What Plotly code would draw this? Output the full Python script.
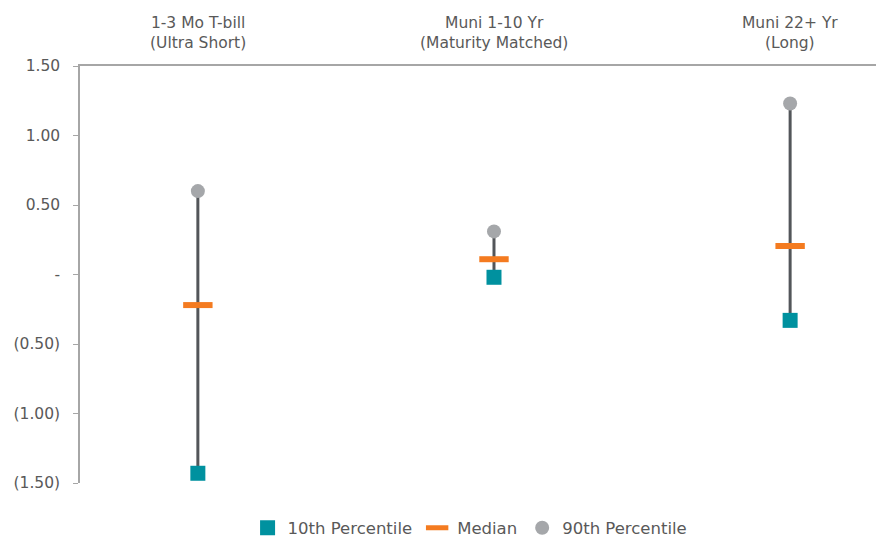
import plotly.graph_objects as go

categories = ["1-3 Mo T-bill<br>(Ultra Short)", "Muni 1-10 Yr<br>(Maturity Matched)", "Muni 22+ Yr<br>(Long)"]
p10 = [-1.43, -0.02, -0.33]
median = [-0.22, 0.11, 0.205]
p90 = [0.60, 0.31, 1.23]
ytick_vals = [1.5, 1.0, 0.5, 0.0, -0.5, -1.0, -1.5]
ytick_text = ["1.50", "1.00", "0.50", "-", "(0.50)", "(1.00)", "(1.50)"]

xs = list(range(len(categories)))
FONT = "DejaVu Sans, sans-serif"
TXT = "#595959"

lx, ly = [], []
for i in xs:
    lx += [i, i, None]
    ly += [p10[i], p90[i], None]

fig = go.Figure()
fig.add_trace(go.Scatter(x=lx, y=ly, mode="lines", line=dict(color="#53565A", width=3),
                         showlegend=False, hoverinfo="skip"))
fig.add_trace(go.Scatter(x=xs, y=p10, mode="markers", name="10th Percentile",
                         marker=dict(symbol="square", size=15, color="#00919F")))
fig.add_trace(go.Scatter(x=xs, y=median, mode="markers", name="Median",
                         marker=dict(symbol="line-ew", size=21,
                                     line=dict(color="#F47B20", width=6))))
fig.add_trace(go.Scatter(x=xs, y=p90, mode="markers", name="90th Percentile",
                         marker=dict(symbol="circle", size=14, color="#A5A7AA")))

for i, c in enumerate(categories):
    fig.add_annotation(x=i, y=1.0, xref="x", yref="paper", yanchor="bottom", yshift=12,
                       text=c, showarrow=False,
                       font=dict(family=FONT, size=15.5, color=TXT))

fig.update_layout(
    width=877, height=541,
    margin=dict(l=80, r=1, t=66, b=58, autoexpand=False),
    plot_bgcolor="white", paper_bgcolor="white",
    font=dict(family=FONT, size=15, color=TXT),
    showlegend=True,
    legend=dict(orientation="h", x=0.536, xanchor="center", xref="container",
                y=13 / 541, yanchor="middle", yref="container",
                font=dict(family=FONT, size=16.5, color=TXT), itemwidth=30,
                traceorder="normal"),
    xaxis=dict(range=[-0.398, 2.29], showgrid=False, zeroline=False, showticklabels=False,
               showline=True, linecolor="#A6A6A6", linewidth=1.5, mirror=False, side="top",
               ticks=""),
    yaxis=dict(range=[-1.5, 1.5], tickvals=ytick_vals, ticktext=ytick_text,
               showgrid=False, zeroline=False, showline=True, linecolor="#A6A6A6",
               linewidth=1.5, ticks="outside", ticklen=5, tickcolor="#A6A6A6",
               ticklabelstandoff=10,
               tickfont=dict(family=FONT, size=15.5, color=TXT)),
)

fig.write_html("out.html")
